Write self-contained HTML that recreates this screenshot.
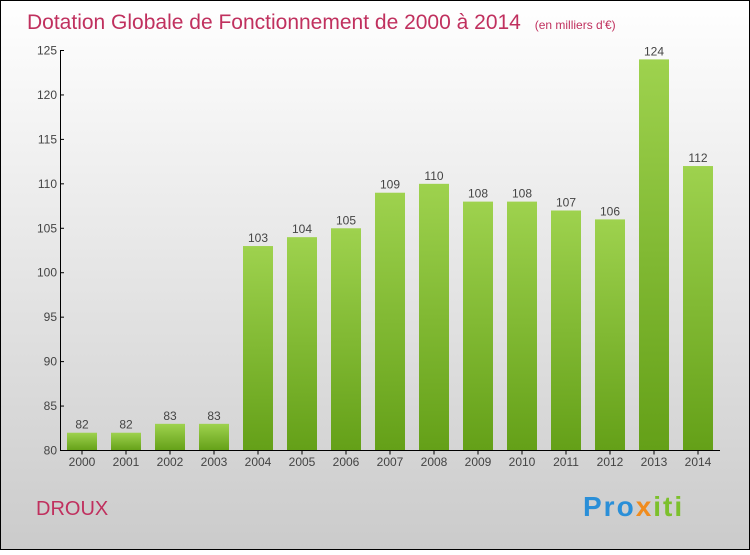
<!DOCTYPE html>
<html><head><meta charset="utf-8"><style>
html,body{margin:0;padding:0}
body{width:750px;height:550px;overflow:hidden;font-family:"Liberation Sans",sans-serif}
</style></head><body>
<svg width="750" height="550" xmlns="http://www.w3.org/2000/svg">
<defs>
<linearGradient id="bg" x1="0" y1="0" x2="0" y2="1"><stop offset="0" stop-color="#ffffff"/><stop offset="1" stop-color="#cbcbcb"/></linearGradient>
<linearGradient id="bar" x1="0" y1="0" x2="0" y2="1"><stop offset="0" stop-color="#9ed24e"/><stop offset="1" stop-color="#64a018"/></linearGradient>
</defs>
<rect x="0.5" y="0.5" width="749" height="549" fill="url(#bg)" stroke="#000"/>
<text x="27" y="29" font-size="21" fill="#c0305e">Dotation Globale de Fonctionnement de 2000 à 2014 <tspan font-size="12" dx="8">(en milliers d'€)</tspan></text>
<g id="yaxis"></g>
<g id="bars"></g>
<g id="xaxis"></g>
<text x="36" y="515" font-size="20" fill="#c0305e">DROUX</text>
<text x="583" y="516" font-size="28" font-weight="bold" letter-spacing="2"><tspan fill="#2a8fd8">Pro</tspan><tspan fill="#f08c1e">x</tspan><tspan fill="#7cc02c">iti</tspan></text>
</svg>
<script>
const categories=["2000","2001","2002","2003","2004","2005","2006","2007","2008","2009","2010","2011","2012","2013","2014"];
const values=[82,82,83,83,103,104,105,109,110,108,108,107,106,124,112];
const yTicks=[80,85,90,95,100,105,110,115,120,125];
const NS="http://www.w3.org/2000/svg";
const y0=450.5,pxPer=400/45,yMin=80;
function ys(v){return y0-(v-yMin)*pxPer;}
function xs(i){return 82+i*44;}
function mk(t,a,p){const e=document.createElementNS(NS,t);for(const k in a)e.setAttribute(k,a[k]);p.appendChild(e);return e;}
const ya=document.getElementById('yaxis'),ba=document.getElementById('bars'),xa=document.getElementById('xaxis');
mk('line',{x1:60.5,y1:ys(125),x2:60.5,y2:y0,stroke:'#000'},ya);
mk('line',{x1:60,y1:y0,x2:720,y2:y0,stroke:'#000'},xa);
yTicks.forEach(v=>{
 mk('line',{x1:60,y1:ys(v),x2:64,y2:ys(v),stroke:'#000'},ya);
 const t=mk('text',{x:57,y:ys(v)+4,'font-size':12,'text-anchor':'end',fill:'#444'},ya);
 
 
 t.textContent=v;
});
categories.forEach((c,i)=>{
 const v=values[i],x=xs(i);
 const r=mk('rect',{x:x-15,y:ys(v),width:30,height:y0-ys(v),fill:'url(#bar)'},ba);
 
 
 const l=mk('text',{x:x,y:ys(v)-4,'font-size':12,'text-anchor':'middle',fill:'#444'},ba);
 
 
 l.textContent=v;
 mk('line',{x1:x,y1:y0,x2:x,y2:y0+4,stroke:'#000'},xa);
 const t=mk('text',{x:x,y:466,'font-size':12,'text-anchor':'middle',fill:'#444'},xa);
 
 
 t.textContent=c;
});
</script>
</body></html>
